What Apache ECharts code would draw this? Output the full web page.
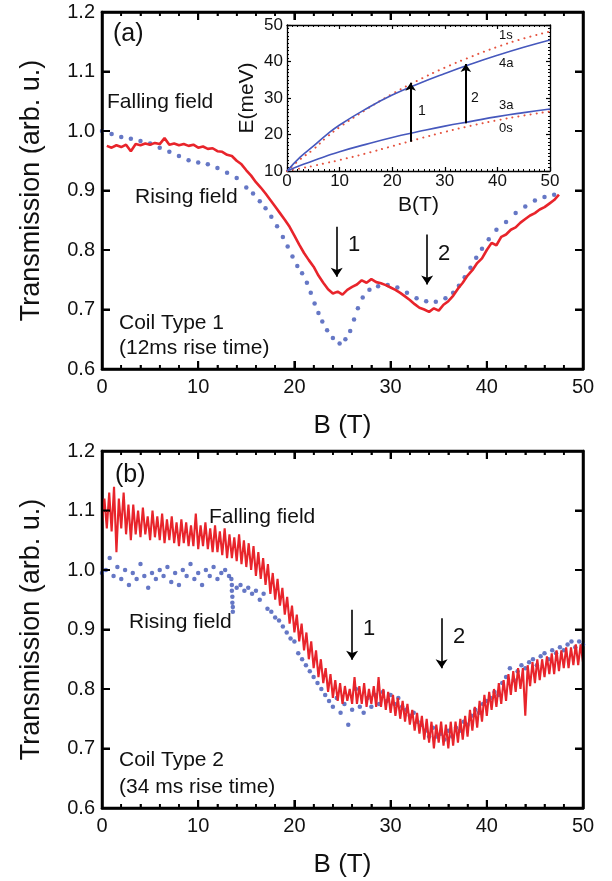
<!DOCTYPE html>
<html><head><meta charset="utf-8">
<script src="https://cdn.jsdelivr.net/npm/echarts@6/dist/echarts.min.js"></script>
<style>html,body{margin:0;padding:0;background:#fff}#c,#ins{position:absolute;left:0;top:0;width:612px;height:881px}</style>
</head><body><div id="c"></div><div id="ins"></div>
<script>
// ---------- Panel (a): Coil Type 1 ----------
const panelA_falling = [[0.5,0.975],[1,0.972],[1.5,0.976],[2,0.973],[2.5,0.977],[3,0.966],[3.5,0.978],[4,0.976],[4.5,0.979],[5,0.977],[5.5,0.98],[6,0.978],[6.5,0.988],[7,0.977],[7.5,0.979],[8,0.976],[8.5,0.978],[9,0.975],[9.5,0.977],[10,0.972],[10.5,0.974],[11,0.97],[11.5,0.971],[12,0.966],[12.5,0.965],[13,0.96],[13.5,0.958],[14,0.95],[14.5,0.944],[15,0.934],[15.5,0.925],[16,0.914],[16.5,0.905],[17,0.895],[17.5,0.884],[18,0.873],[18.5,0.862],[19,0.851],[19.5,0.839],[20,0.824],[20.5,0.809],[21,0.795],[21.5,0.783],[22,0.772],[22.5,0.757],[23,0.745],[23.5,0.734],[24,0.727],[24.5,0.73],[25,0.725],[25.5,0.733],[26,0.738],[26.5,0.742],[27,0.749],[27.5,0.745],[28,0.751],[28.5,0.746],[29,0.744],[29.5,0.741],[30,0.737],[30.5,0.733],[31,0.728],[31.5,0.722],[32,0.716],[32.5,0.709],[33,0.703],[33.5,0.7],[34,0.696],[34.5,0.702],[35,0.698],[35.5,0.708],[36,0.714],[36.5,0.723],[37,0.735],[37.5,0.745],[38,0.757],[38.5,0.766],[39,0.778],[39.5,0.786],[40,0.8],[40.5,0.812],[41,0.808],[41.5,0.822],[42,0.826],[42.5,0.834],[43,0.838],[43.5,0.846],[44,0.852],[44.5,0.858],[45,0.862],[45.5,0.868],[46,0.872],[46.5,0.878],[47,0.884],[47.5,0.893]];
const panelA_rising = [[0,1.0],[1,0.995],[2,0.99],[3,0.987],[4,0.983],[5,0.979],[6,0.972],[7,0.965],[8,0.958],[9,0.951],[10,0.947],[11,0.944],[12,0.938],[13,0.93],[14,0.921],[15,0.905],[15.7,0.895],[16.4,0.882],[17,0.87],[17.6,0.856],[18.2,0.84],[18.8,0.822],[19.3,0.806],[19.8,0.789],[20.3,0.773],[20.8,0.761],[21.3,0.745],[21.7,0.728],[22.1,0.71],[22.5,0.694],[22.9,0.68],[23.4,0.665],[24,0.652],[24.7,0.643],[25.3,0.65],[25.8,0.664],[26.2,0.683],[26.6,0.702],[27.1,0.72],[27.8,0.733],[28.7,0.739],[29.7,0.741],[30.7,0.737],[31.7,0.728],[32.7,0.719],[33.7,0.714],[34.7,0.713],[35.7,0.719],[36.5,0.728],[37.1,0.74],[37.7,0.754],[38.3,0.77],[38.9,0.787],[39.5,0.802],[40.2,0.818],[41,0.834],[42,0.847],[43,0.862],[44,0.873],[45,0.883],[46,0.889],[47,0.893]];
const panelA_arrows = [[24.4,0.839,0.755],[33.8,0.826,0.742]];

// ---------- Inset: levels ----------
const inset_B = [0,2.5,5,7.5,10,15,20,25,30,35,40,45,50];
const inset_4a = [10,13.8,16.8,19.9,22.6,27,30.8,33.9,36.7,39.3,41.7,43.9,45.9];
const inset_1s = [10,13.2,15.9,19.2,22.0,26.8,31.1,34.9,38.3,41.3,44.0,46.3,48.2];
const inset_3a = [10,11.5,12.8,14.1,15.3,17.3,19.2,20.8,22.3,23.6,24.9,26.0,27.0];
const inset_0s = [10,10.7,11.4,12.2,13.0,14.8,16.8,18.8,20.7,22.4,23.9,25.2,26.3];
const inset_arrows = [[23.5,18.0,34.2],[34,23.1,39.3]];

// ---------- Panel (b): Coil Type 2 ----------
const panelB_fallStart = 0, panelB_fallStep = 0.25;
const panelB_falling = [
1.08,1.12,1.07,1.13,1.065,1.14,1.03,1.12,
1.07,1.13,1.06,1.11,1.05,1.11,1.06,1.10,
1.055,1.105,1.06,1.09,1.05,1.10,1.055,1.09,
1.05,1.095,1.045,1.085,1.05,1.09,1.045,1.08,
1.04,1.085,1.045,1.08,1.04,1.075,1.04,1.095,
1.035,1.075,1.04,1.08,1.035,1.07,1.03,1.075,
1.03,1.065,1.025,1.07,1.02,1.06,1.02,1.055,
1.015,1.06,1.01,1.05,1.005,1.045,1.0,1.04,
0.99,1.03,0.985,1.02,0.975,1.01,0.96,0.995,
0.95,0.985,0.94,0.97,0.925,0.955,0.91,0.94,
0.895,0.925,0.88,0.91,0.865,0.895,0.85,0.88,
0.835,0.865,0.82,0.85,0.81,0.835,0.795,0.825,
0.785,0.815,0.78,0.81,0.775,0.805,0.78,0.80,
0.775,0.82,0.775,0.805,0.775,0.81,0.77,0.80,
0.775,0.805,0.77,0.82,0.77,0.80,0.765,0.795,
0.76,0.79,0.755,0.785,0.75,0.78,0.745,0.775,
0.74,0.765,0.73,0.76,0.725,0.755,0.715,0.75,
0.71,0.745,0.70,0.74,0.71,0.745,0.705,0.74,
0.70,0.745,0.705,0.745,0.71,0.75,0.715,0.755,
0.72,0.765,0.73,0.77,0.735,0.78,0.745,0.79,
0.755,0.795,0.765,0.80,0.77,0.81,0.775,0.815,
0.78,0.825,0.79,0.83,0.795,0.835,0.80,0.835,
0.755,0.84,0.805,0.845,0.81,0.85,0.815,0.85,
0.82,0.855,0.825,0.86,0.825,0.865,0.83,0.865,
0.835,0.87,0.835,0.87,0.84,0.875,0.84,0.875,
0.845];
const panelB_riseStart = 0, panelB_riseStep = 0.4;
const panelB_rising = [
0.995,1.0,1.02,0.99,1.005,0.985,1.0,0.975,0.995,0.985,
1.01,0.99,0.97,0.995,0.985,1.0,0.99,1.005,0.98,0.995,
0.975,1.0,0.99,1.01,0.985,0.995,0.975,1.0,0.99,1.005,
0.985,0.995,1.0,0.99,0.93,0.97,0.975,0.965,0.97,0.96,
0.965,0.95,0.96,0.935,0.93,0.92,0.915,0.905,0.895,0.885,
0.88,0.86,0.85,0.84,0.83,0.82,0.81,0.80,0.79,0.78,
0.77,0.785,0.76,0.775,0.74,0.765,0.80,0.77,0.76,0.785,
0.77,0.79,0.775,0.795,0.78,0.79,0.775,0.785,0.77,0.765,
0.755,0.76,0.745,0.74,0.73,0.72,0.735,0.72,0.725,0.715,
0.73,0.72,0.735,0.73,0.745,0.74,0.755,0.765,0.76,0.775,
0.78,0.785,0.795,0.79,0.81,0.82,0.835,0.815,0.83,0.84,
0.835,0.845,0.85,0.84,0.855,0.86,0.85,0.865,0.86,0.87,
0.865,0.875,0.88,0.87,0.88,
0.875];
const panelB_risingDrop = [[13.45,0.985],[13.5,0.975],[13.5,0.965],[13.55,0.955],[13.55,0.945],[13.6,0.938]];
const panelB_arrows = [[26,0.933,0.849],[35.3,0.919,0.835]];

// tick values of the main panels
const xTicksMain = [0,10,20,30,40,50];
const yTicksMain = [0.6,0.7,0.8,0.9,1.0,1.1,1.2];

// ---------- build ----------
const RED = '#e8242b', BLUE = '#3e55b6', FONT = '"Liberation Sans", Arial, sans-serif';
const pairsFromGrid = (start, step, vals) => vals.map((v, i) => [+(start + i * step).toFixed(3), v]);
const zipXY = (xs, ys) => xs.map((x, i) => [x, ys[i]]);
const arrowData = arr => arr.map(a => [{coord:[a[0], a[1]]}, {coord:[a[0], a[2]]}]);

function mainX(gi, pos, withLabel) {
  return {
    gridIndex: gi, type: 'value', position: pos, min: xTicksMain[0], max: xTicksMain[xTicksMain.length - 1], interval: 10,
    axisLine: {show: true, onZero: false, lineStyle: {color: '#000', width: 2.5}},
    axisTick: {show: true, inside: true, length: 8, lineStyle: {color: '#000', width: 2}},
    minorTick: {show: true, splitNumber: 5, length: 4, lineStyle: {color: '#000', width: 1.6}},
    axisLabel: {show: withLabel, color: '#111', fontSize: 20, fontFamily: FONT, margin: 8},
    splitLine: {show: false},
    name: withLabel ? 'B (T)' : '', nameLocation: 'middle', nameGap: 44,
    nameTextStyle: {color: '#111', fontSize: 26, fontFamily: FONT}
  };
}
function mainY(gi, pos, withLabel) {
  return {
    gridIndex: gi, type: 'value', position: pos, min: yTicksMain[0], max: yTicksMain[yTicksMain.length - 1], interval: 0.1,
    axisLine: {show: true, onZero: false, lineStyle: {color: '#000', width: 2.5}},
    axisTick: {show: true, inside: true, length: 8, lineStyle: {color: '#000', width: 2}},
    axisLabel: {show: withLabel, color: '#111', fontSize: 20, fontFamily: FONT, margin: 7, formatter: v => v.toFixed(1)},
    splitLine: {show: false},
    name: withLabel ? 'Transmission (arb. u.)' : '', nameLocation: 'middle', nameGap: 57, nameRotate: 90,
    nameTextStyle: {color: '#111', fontSize: 27, fontFamily: FONT}
  };
}
function insetX(pos, withLabel) {
  return {
    gridIndex: 0, type: 'value', position: pos, min: 0, max: 50, interval: 10,
    axisLine: {show: true, onZero: false, lineStyle: {color: '#000', width: 1.3}},
    axisTick: {show: true, inside: true, length: 4, lineStyle: {color: '#000', width: 1.2}},
    minorTick: {show: true, splitNumber: 10, length: 2, lineStyle: {color: '#000', width: 1}},
    axisLabel: {show: withLabel, color: '#111', fontSize: 17, fontFamily: FONT, margin: 2},
    splitLine: {show: false},
    name: withLabel ? 'B(T)' : '', nameLocation: 'middle', nameGap: 24,
    nameTextStyle: {color: '#111', fontSize: 21, fontFamily: FONT}
  };
}
function insetY(pos, withLabel) {
  return {
    gridIndex: 0, type: 'value', position: pos, min: 10, max: 50, interval: 10,
    axisLine: {show: true, onZero: false, lineStyle: {color: '#000', width: 1.3}},
    axisTick: {show: true, inside: true, length: 4, lineStyle: {color: '#000', width: 1.2}},
    minorTick: {show: true, splitNumber: 10, length: 2, lineStyle: {color: '#000', width: 1}},
    axisLabel: {show: withLabel, color: '#111', fontSize: 17, fontFamily: FONT, margin: 4},
    splitLine: {show: false},
    name: withLabel ? 'E(meV)' : '', nameLocation: 'middle', nameGap: 29, nameRotate: 90,
    nameTextStyle: {color: '#111', fontSize: 21, fontFamily: FONT}
  };
}
function txt(x, y, s, size) {
  return {type: 'text', x: x, y: y, z: 100, silent: true,
    style: {text: s, x: 0, y: 0, fill: '#111', font: size + 'px ' + FONT,
      textAlign: 'left', textVerticalAlign: 'middle', align: 'left', verticalAlign: 'middle'}};
}
const arrowML = (data, w, size) => ({
  silent: true, animation: false, symbol: ['none', 'arrow'], symbolSize: size,
  lineStyle: {color: '#000', width: w, type: 'solid'}, label: {show: false},
  data: arrowData(data)
});

// frame + inward ticks placed through the chart's own axis scales
function frameAndTicks(ch, xi, yi) {
  const els = [];
  const f = {xAxisIndex: xi, yAxisIndex: yi};
  const pBL = ch.convertToPixel(f, [xTicksMain[0], yTicksMain[0]]);
  const pTR = ch.convertToPixel(f, [xTicksMain[xTicksMain.length - 1], yTicksMain[yTicksMain.length - 1]]);
  const L = pBL[0], B = pBL[1], R = pTR[0], T = pTR[1];
  const seg = (x1, y1, x2, y2, w) => ({type: 'line', silent: true, z: 90, shape: {x1: x1, y1: y1, x2: x2, y2: y2}, style: {stroke: '#000', lineWidth: w}});
  els.push({type: 'rect', silent: true, z: 90, shape: {x: L, y: T, width: R - L, height: B - T}, style: {fill: 'none', stroke: '#000', lineWidth: 2.5}});
  xTicksMain.forEach((v, i) => {
    const px = ch.convertToPixel({xAxisIndex: xi}, v);
    els.push(seg(px, B, px, B - 8, 2), seg(px, T, px, T + 8, 2));
    if (i < xTicksMain.length - 1) {
      const sub = (xTicksMain[i + 1] - v) / 5;
      for (let k = 1; k < 5; k++) {
        const mx = ch.convertToPixel({xAxisIndex: xi}, v + k * sub);
        els.push(seg(mx, B, mx, B - 4, 1.6), seg(mx, T, mx, T + 4, 1.6));
      }
    }
  });
  yTicksMain.forEach(v => {
    const py = ch.convertToPixel({yAxisIndex: yi}, v);
    els.push(seg(L, py, L + 8, py, 2), seg(R, py, R - 8, py, 2));
  });
  return els;
}

// main chart: panels (a) and (b)
const chart = echarts.init(document.getElementById('c'));
chart.setOption({
  animation: false,
  grid: [
    {left: 102, top: 12, width: 481, height: 357},
    {left: 102, top: 451, width: 481, height: 357}
  ],
  xAxis: [mainX(0, 'bottom', true), mainX(0, 'top', false), mainX(1, 'bottom', true), mainX(1, 'top', false)],
  yAxis: [mainY(0, 'left', true), mainY(0, 'right', false), mainY(1, 'left', true), mainY(1, 'right', false)],
  series: [
    {type: 'line', xAxisIndex: 0, yAxisIndex: 0, data: panelA_falling, showSymbol: false, lineStyle: {color: RED, width: 2.6}, markLine: arrowML(panelA_arrows, 1.6, 9)},
    {type: 'scatter', xAxisIndex: 0, yAxisIndex: 0, data: panelA_rising, symbol: 'circle', symbolSize: 4.5, itemStyle: {color: BLUE}},
    {type: 'line', xAxisIndex: 2, yAxisIndex: 2, data: pairsFromGrid(panelB_fallStart, panelB_fallStep, panelB_falling), showSymbol: false,
      lineStyle: {color: RED, width: 2.1}, markLine: arrowML(panelB_arrows, 1.6, 9)},
    {type: 'scatter', xAxisIndex: 2, yAxisIndex: 2, data: pairsFromGrid(panelB_riseStart, panelB_riseStep, panelB_rising).concat(panelB_risingDrop),
      symbol: 'circle', symbolSize: 4.5, itemStyle: {color: BLUE}}
  ]
});
const mainTexts = [
  txt(113, 34, '(a)', 25),
  txt(107, 102, 'Falling field', 21),
  txt(135, 197, 'Rising field', 21),
  txt(119, 323, 'Coil Type 1', 21),
  txt(119, 348, '(12ms rise time)', 21),
  txt(348, 245, '1', 22),
  txt(438, 254, '2', 22),
  txt(115, 475, '(b)', 25),
  txt(209, 517, 'Falling field', 21),
  txt(129, 622, 'Rising field', 21),
  txt(119, 760, 'Coil Type 2', 21),
  txt(119, 787, '(34 ms rise time)', 21),
  txt(363, 629, '1', 22),
  txt(453, 637, '2', 22)
];
chart.setOption({graphic: mainTexts.concat(frameAndTicks(chart, 0, 0), frameAndTicks(chart, 2, 2))});

// inset chart overlaid on panel (a)
const inset = echarts.init(document.getElementById('ins'));
inset.setOption({
  animation: false,
  grid: [{left: 287, top: 25, width: 263, height: 146}],
  xAxis: [insetX('bottom', true), insetX('top', false)],
  yAxis: [insetY('left', true), insetY('right', false)],
  series: [
    {type: 'line', xAxisIndex: 0, yAxisIndex: 0, data: zipXY(inset_B, inset_1s), showSymbol: false, smooth: true,
      lineStyle: {color: '#e5533f', width: 2, type: [0.1, 6], cap: 'round'}},
    {type: 'line', xAxisIndex: 0, yAxisIndex: 0, data: zipXY(inset_B, inset_0s), showSymbol: false, smooth: true,
      lineStyle: {color: '#e5533f', width: 2, type: [0.1, 6], cap: 'round'}},
    {type: 'line', xAxisIndex: 0, yAxisIndex: 0, data: zipXY(inset_B, inset_4a), showSymbol: false, smooth: true,
      lineStyle: {color: '#4658bd', width: 1.6}},
    {type: 'line', xAxisIndex: 0, yAxisIndex: 0, data: zipXY(inset_B, inset_3a), showSymbol: false, smooth: true,
      lineStyle: {color: '#4658bd', width: 1.6}, markLine: arrowML(inset_arrows, 2, 8)}
  ],
  graphic: [
    txt(499, 35, '1s', 13),
    txt(499, 63, '4a', 13),
    txt(499, 105, '3a', 13),
    txt(499, 128, '0s', 13),
    txt(418, 111, '1', 14),
    txt(471, 98, '2', 14)
  ]
});
</script></body></html>
